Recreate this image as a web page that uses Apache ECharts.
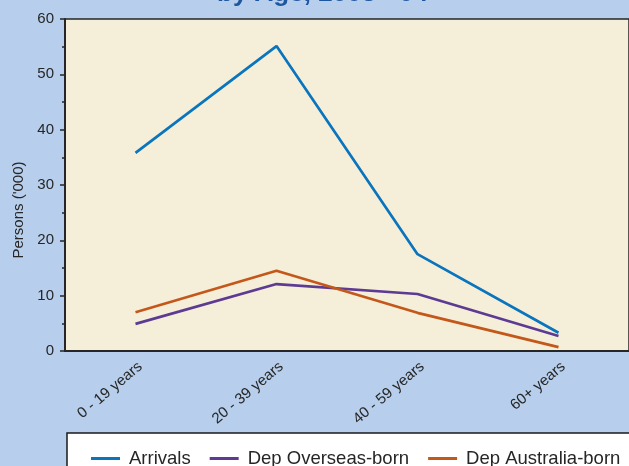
<!DOCTYPE html>
<html>
<head>
<meta charset="utf-8">
<script src="https://cdn.jsdelivr.net/npm/echarts@6/dist/echarts.min.js"></script>
<style>
  html, body { margin: 0; padding: 0; background: #b7cfec; }
  #chart { width: 629px; height: 466px; }
</style>
</head>
<body>
<div id="chart"></div>
<script>
// Age groups along the x axis
const ageGroups = ['0 - 19 years', '20 - 39 years', '40 - 59 years', '60+ years'];

// Persons ('000) per age group
const arrivals = [35.8, 55.1, 17.5, 3.3];
const depOverseasBorn = [4.9, 12.1, 10.3, 2.7];
const depAustraliaBorn = [7.0, 14.5, 6.9, 0.7];

const yTicks = { min: 0, max: 60, interval: 10 };

const FONT = 'Liberation Sans, Arial, sans-serif';
const TEXT = '#262626';
const AXIS = '#262626';

const chart = echarts.init(document.getElementById('chart'));

function lineSeries(name, data, color) {
  return {
    name: name,
    type: 'line',
    data: data,
    symbol: 'none',
    lineStyle: { color: color, width: 2.7 },
    itemStyle: { color: color },
    z: 3
  };
}

chart.setOption({
  animation: false,
  backgroundColor: '#b7cfec',
  textStyle: { fontFamily: FONT },
  grid: {
    left: 65, top: 19, right: 0, bottom: 115,
    show: true,
    backgroundColor: '#f5efda',
    borderColor: AXIS,
    borderWidth: 1.5
  },
  graphic: [
    {
      type: 'text',
      x: 217,
      y: 7,
      style: {
        text: 'by Age, 2003 - 04',
        font: 'bold 26px ' + FONT,
        fill: '#1e56a0',
        verticalAlign: 'bottom'
      }
    },
    {
      type: 'text',
      x: 19, y: 210,
      rotation: Math.PI / 2,
      style: {
        text: "Persons ('000)",
        font: '15px ' + FONT,
        fill: TEXT,
        align: 'center',
        verticalAlign: 'middle'
      }
    },
    {
      type: 'rect',
      shape: { x: 67, y: 433, width: 600, height: 80 },
      style: { fill: '#ffffff', stroke: '#1a1a1a', lineWidth: 1.5 },
      z: 1
    }
  ],
  legend: {
    left: 86,
    top: 444,
    itemWidth: 29,
    itemHeight: 3,
    itemGap: 19,
    icon: 'rect',
    textStyle: { fontSize: 18.5, color: TEXT, fontFamily: FONT, padding: [0, 0, 0, 4] },
    z: 5,
    data: ['Arrivals', 'Dep Overseas-born', 'Dep Australia-born']
  },
  xAxis: {
    type: 'category',
    data: ageGroups,
    boundaryGap: true,
    axisLine: { lineStyle: { color: AXIS, width: 2 } },
    axisTick: { alignWithLabel: true, length: 5, lineStyle: { color: AXIS, width: 1.5 } },
    axisLabel: {
      rotate: 40, fontSize: 15, color: TEXT, margin: 8,
      verticalAlign: 'top', fontFamily: FONT
    },
    splitLine: { show: false }
  },
  yAxis: {
    type: 'value',
    min: yTicks.min,
    max: yTicks.max,
    interval: yTicks.interval,
    axisLine: { show: true, lineStyle: { color: AXIS, width: 2 } },
    axisTick: { show: true, length: 5, lineStyle: { color: AXIS, width: 1.5 } },
    minorTick: { show: true, splitNumber: 2, length: 3, lineStyle: { color: AXIS, width: 1.5 } },
    axisLabel: { fontSize: 15, color: TEXT, margin: 11, fontFamily: FONT },
    splitLine: { show: false }
  },
  series: [
    lineSeries('Arrivals', arrivals, '#0a74bd'),
    lineSeries('Dep Overseas-born', depOverseasBorn, '#5e3b92'),
    lineSeries('Dep Australia-born', depAustraliaBorn, '#c4581b')
  ]
});
</script>
</body>
</html>
